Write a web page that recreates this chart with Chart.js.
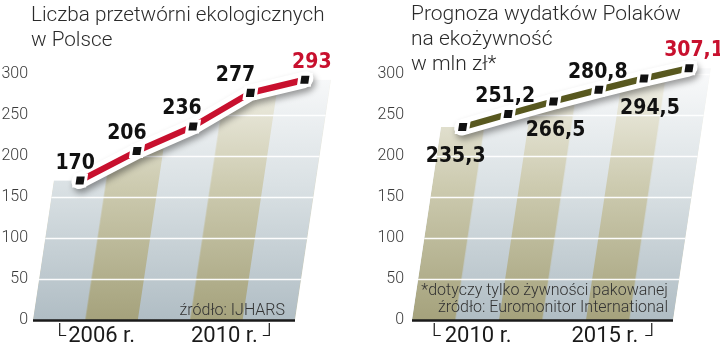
<!DOCTYPE html>
<html lang="pl">
<head>
<meta charset="utf-8">
<script src="https://cdn.jsdelivr.net/npm/chart.js@4"></script>
<style>
  html, body { margin: 0; padding: 0; background: #fff; }
  #wrap { position: relative; width: 720px; height: 348px; overflow: hidden; font-family: Roboto, "Open Sans", sans-serif; }
  #wrap canvas { position: absolute; top: 0; }
  .title { position: absolute; font-weight: 300; font-size: 20.7px; line-height: 25px; color: #2b2b2b; white-space: nowrap; }
  .note { position: absolute; font-weight: 300; color: #333; white-space: nowrap; text-align: right; }
</style>
</head>
<body>
<div id="wrap">
  <canvas id="plants" width="360" height="348" style="left:0"></canvas>
  <canvas id="spend" width="360" height="348" style="left:360px"></canvas>
  <div class="title" style="left:31px;top:2px">Liczba przetwórni ekologicznych<br>w Polsce</div>
  <div class="title" style="left:411px;top:1px;font-size:21px">Prognoza wydatków Polaków<br>na ekożywność<br>w mln zł*</div>
  <div class="note" style="right:435px;top:301px;font-size:16px;line-height:18px">źródło: IJHARS</div>
  <div class="note" style="right:52px;top:281px;font-size:16px;line-height:17px">*dotyczy tylko żywności pakowanej<br>źródło: Euromonitor International</div>
</div>
<script>
// Organic food processing plants in Poland
const plantYears = ['2006', '2007', '2008', '2009', '2010'];
const plantCounts = [170, 206, 236, 277, 293];

// Forecast of Polish spending on organic food, PLN million
const spendYears = ['2010', '2011', '2012', '2013', '2014', '2015'];
const spendValues = [235.3, 251.2, 266.5, 280.8, 294.5, 307.1];

// Value axis ticks
const yTickValues = [0, 50, 100, 150, 200, 250, 300];

const SHEAR = 0.15;          // columns lean to the right
const RED = '#c8102e';
const OLIVE_LINE = '#58581f';
const LINE_INDEX = 3;

function fmt(v) { return String(v).replace('.', ','); }

// Alternating olive / grey year bands, each fading towards white at the top.
function bandPattern(chart, firstOlive) {
  if (chart.$bandPattern) return chart.$bandPattern;
  const area = chart.chartArea;
  const xs = chart.scales.x;
  if (!area || !xs) return '#ccd3d7';
  const bandW = xs.getPixelForValue(1) - xs.getPixelForValue(0);
  const tileW = Math.round(bandW * 2);
  const tile = document.createElement('canvas');
  tile.width = tileW;
  tile.height = chart.height;
  const t = tile.getContext('2d');
  const olive = t.createLinearGradient(0, area.bottom, 0, area.top);
  olive.addColorStop(0, '#a5a27c');
  olive.addColorStop(0.55, '#cdcbb0');
  olive.addColorStop(1, '#f2f1e8');
  const grey = t.createLinearGradient(0, area.bottom, 0, area.top);
  grey.addColorStop(0, '#b0bdc4');
  grey.addColorStop(0.55, '#dae1e4');
  grey.addColorStop(1, '#f8f9fa');
  t.fillStyle = firstOlive ? olive : grey;
  t.fillRect(0, 0, tileW / 2, tile.height);
  t.fillStyle = firstOlive ? grey : olive;
  t.fillRect(tileW / 2, 0, tileW / 2, tile.height);
  const p = chart.ctx.createPattern(tile, 'repeat');
  p.setTransform(new DOMMatrix().translate(area.left, 0).scale((bandW * 2) / tileW, 1));
  chart.$bandPattern = p;
  return p;
}

function applyShear(chart) {
  const ctx = chart.ctx;
  const y0 = chart.scales.y.getPixelForValue(0);
  ctx.save();
  ctx.transform(1, 0, -SHEAR, 1, SHEAR * y0, 0);
}

// Region under the value line, held level out to the outer band edges.
function underLine(chart) {
  const ctx = chart.ctx;
  const area = chart.chartArea;
  const y0 = chart.scales.y.getPixelForValue(0);
  const pts = chart.getDatasetMeta(LINE_INDEX).data;
  ctx.beginPath();
  ctx.moveTo(area.left, y0);
  ctx.lineTo(area.left, pts[0].y);
  pts.forEach((p) => ctx.lineTo(p.x, p.y));
  ctx.lineTo(area.right, pts[pts.length - 1].y);
  ctx.lineTo(area.right, y0);
  ctx.closePath();
}

// Leans every flagged dataset; the filled band is opened early so the
// filler paints it already leaning.
const shearPlugin = {
  id: 'shear',
  beforeDatasetsDraw(chart) {
    if (chart.data.datasets.some((d) => d.band)) {
      applyShear(chart);
      chart.$bandOpen = true;
    }
  },
  beforeDatasetDraw(chart, args) {
    const ds = chart.data.datasets[args.index];
    if (!ds.sheared || ds.band) return;
    applyShear(chart);
    if (ds.columns) {
      underLine(chart);
      chart.ctx.clip();
    }
    if (ds.halo) {
      const ctx = chart.ctx;
      ctx.shadowColor = 'rgba(0,0,0,0.38)';
      ctx.shadowBlur = 6;
      ctx.shadowOffsetX = 2;
      ctx.shadowOffsetY = 4;
    }
  },
  afterDatasetDraw(chart, args) {
    const ds = chart.data.datasets[args.index];
    if (!ds.sheared) return;
    const ctx = chart.ctx;
    if (ds.band) {
      if (chart.$bandOpen) { ctx.restore(); chart.$bandOpen = false; }
      return;
    }
    if (ds.columns) {
      const ys = chart.scales.y;
      ctx.strokeStyle = 'rgba(255,255,255,0.95)';
      ctx.lineWidth = 1.6;
      ys.ticks.forEach((t) => {
        if (t.value === 0) return;
        const y = Math.round(ys.getPixelForValue(t.value)) + 0.5;
        ctx.beginPath();
        ctx.moveTo(chart.chartArea.left - 60, y);
        ctx.lineTo(chart.chartArea.right + 120, y);
        ctx.stroke();
      });
    }
    ctx.restore();
  }
};

function buildChart(id, years, values, o) {
  const annotate = {
    id: 'annotate',
    afterDatasetsDraw(chart) {
      const ctx = chart.ctx;
      const area = chart.chartArea;
      const xs = chart.scales.x;
      const y0 = chart.scales.y.getPixelForValue(0);
      ctx.save();
      // base line
      ctx.strokeStyle = '#1a1a1a';
      ctx.lineWidth = 2.5;
      ctx.beginPath();
      ctx.moveTo(area.left, y0 + 0.5);
      ctx.lineTo(area.right, y0 + 0.5);
      ctx.stroke();

      // first and last year with corner brackets
      const first = xs.getPixelForValue(0);
      const last = xs.getPixelForValue(years.length - 1);
      ctx.lineWidth = 1.2;
      ctx.beginPath();
      ctx.moveTo(first + 0.5, y0 + 3);
      ctx.lineTo(first + 0.5, y0 + 15.5);
      ctx.lineTo(first + 7, y0 + 15.5);
      ctx.moveTo(last - 6, y0 + 15.5);
      ctx.lineTo(last + 0.5, y0 + 15.5);
      ctx.lineTo(last + 0.5, y0 + 3);
      ctx.stroke();
      ctx.fillStyle = '#1a1a1a';
      ctx.font = '400 22px Roboto';
      ctx.textBaseline = 'alphabetic';
      ctx.textAlign = 'left';
      ctx.fillText(years[0] + ' r.', first + o.yearGap, 342);
      ctx.textAlign = 'right';
      ctx.fillText(years[years.length - 1] + ' r.', last - o.yearGap - 2, 342);

      // value labels next to the line points
      const meta = chart.getDatasetMeta(LINE_INDEX);
      ctx.font = 'bold 21px "DejaVu Sans Condensed"';
      ctx.textAlign = 'center';
      meta.data.forEach((pt, i) => {
        const x = pt.x + SHEAR * (y0 - pt.y);
        const below = o.labelSide[i] === 'below';
        const y = below ? pt.y + 35 : pt.y - 12;
        ctx.fillStyle = i === values.length - 1 ? RED : '#111';
        ctx.fillText(fmt(values[i]), x + o.labelDx[i], y);
      });
      ctx.restore();
    }
  };

  const fill = (c) => bandPattern(c.chart, o.firstOlive);

  return new Chart(document.getElementById(id), {
    type: 'bar',
    data: {
      labels: years,
      datasets: [
        {
          // area under the line, striped like the year columns
          type: 'line',
          data: values,
          sheared: true,
          band: true,
          order: 4,
          clip: false,
          fill: 'origin',
          backgroundColor: fill,
          borderWidth: 0,
          pointRadius: 0,
          tension: 0
        },
        {
          type: 'bar',
          data: values,
          sheared: true,
          columns: true,
          order: 3,
          clip: false,
          backgroundColor: fill,
          borderWidth: 0,
          barPercentage: 1,
          categoryPercentage: 1
        },
        {
          type: 'line',
          data: values,
          sheared: true,
          halo: true,
          order: 2,
          clip: false,
          borderColor: '#ffffff',
          borderWidth: 17,
          borderCapStyle: 'round',
          borderJoinStyle: 'round',
          pointRadius: 0,
          tension: 0
        },
        {
          type: 'line',
          data: values,
          sheared: true,
          order: 1,
          clip: false,
          borderColor: o.lineColor,
          borderWidth: 6.5,
          borderCapStyle: 'butt',
          tension: 0,
          pointStyle: 'rect',
          pointRadius: 7.8,
          pointBackgroundColor: '#111',
          pointBorderColor: '#ffffff',
          pointBorderWidth: 3
        }
      ]
    },
    options: {
      responsive: false,
      animation: false,
      events: [],
      layout: { padding: { left: 0, top: 74, right: o.padRight, bottom: 28 } },
      plugins: { legend: { display: false }, tooltip: { enabled: false } },
      scales: {
        x: { display: false, offset: true },
        y: {
          min: 0,
          max: 300,
          afterBuildTicks: (s) => { s.ticks = yTickValues.map((v) => ({ value: v })); },
          afterFit: (s) => { s.width = o.axisWidth; },
          ticks: { padding: o.tickPad, color: '#3a3a3a', font: { family: 'Roboto', size: 16, weight: '300' } },
          grid: { display: false, drawTicks: false },
          border: { display: false }
        }
      }
    },
    plugins: [shearPlugin, annotate]
  });
}

buildChart('plants', plantYears, plantCounts, {
  lineColor: RED,
  firstOlive: false,
  axisWidth: 33,
  tickPad: 5,
  padRight: 65,
  yearGap: 9,
  labelDx: [-5, -10, -11, -15, 7],
  labelSide: ['above', 'above', 'above', 'above', 'above']
});

buildChart('spend', spendYears, spendValues, {
  lineColor: OLIVE_LINE,
  firstOlive: true,
  axisWidth: 52,
  tickPad: 8,
  padRight: 47,
  yearGap: 11,
  labelDx: [-7, -3, 2, -1, 6, 5],
  labelSide: ['below', 'above', 'below', 'above', 'below', 'above']
});
</script>
</body>
</html>
